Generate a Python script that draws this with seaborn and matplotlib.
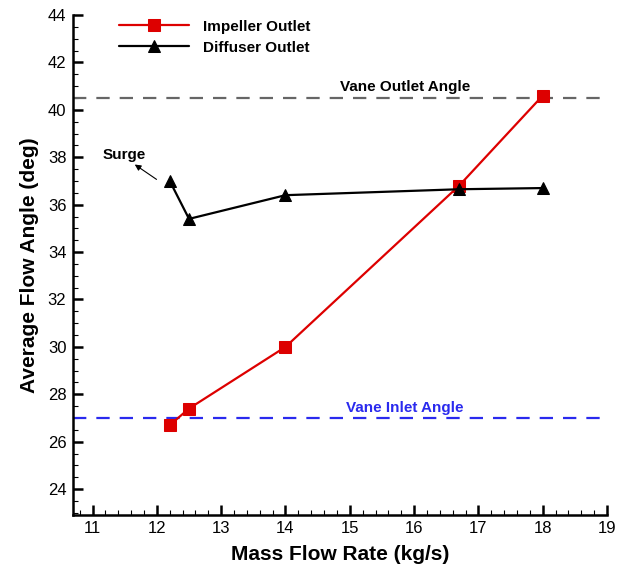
import matplotlib
matplotlib.use("Agg")
import matplotlib.pyplot as plt
import seaborn as sns
import pandas as pd
from matplotlib.ticker import MultipleLocator

mass_flow = [12.2, 12.5, 14.0, 16.7, 18.0]
impeller_outlet = [26.7, 27.4, 30.0, 36.8, 40.6]
diffuser_outlet = [37.0, 35.4, 36.4, 36.65, 36.7]
vane_outlet_angle = 40.5
vane_inlet_angle = 27.0

sns.set_theme(style="white")
plt.rcParams['font.family'] = ['Liberation Sans', 'DejaVu Sans']
plt.rcParams.update({"text.color": "black", "axes.labelcolor": "black",
                     "xtick.color": "black", "ytick.color": "black"})

df = pd.concat([
    pd.DataFrame({"x": mass_flow, "y": impeller_outlet, "series": "Impeller Outlet"}),
    pd.DataFrame({"x": mass_flow, "y": diffuser_outlet, "series": "Diffuser Outlet"}),
])

fig = plt.figure(figsize=(6.18, 5.64), dpi=100)
ax = fig.add_axes([0.1186, 0.0869, 0.8636, 0.8865])

ax.axhline(vane_outlet_angle, color="#666666", ls=(0, (6, 4.5)), lw=1.6, zorder=1)
ax.axhline(vane_inlet_angle, color="#2a2aee", ls=(0, (6, 4.5)), lw=1.6, zorder=1)

sns.lineplot(data=df, x="x", y="y", hue="series", style="series",
             palette={"Impeller Outlet": "#dd0000", "Diffuser Outlet": "black"},
             markers={"Impeller Outlet": "s", "Diffuser Outlet": "^"},
             dashes=False, markersize=9, linewidth=1.6, sort=False,
             ax=ax, zorder=3)

for line in ax.get_lines():
    c = line.get_color()
    line.set_markeredgecolor(c)
    line.set_markerfacecolor(c)

ax.set_xlim(10.70, 19.0)
ax.set_ylim(22.91, 44.0)
ax.xaxis.set_major_locator(MultipleLocator(1))
ax.xaxis.set_minor_locator(MultipleLocator(0.2))
ax.yaxis.set_major_locator(MultipleLocator(2))
ax.yaxis.set_minor_locator(MultipleLocator(0.5))
ax.tick_params(which="major", direction="in", length=7, width=1.8, labelsize=12,
               bottom=True, left=True)
ax.tick_params(which="minor", direction="in", length=3.5, width=0.8, bottom=True, left=True)
ax.tick_params(axis="x", pad=4.5)
ax.tick_params(axis="y", pad=5)
for s in ["top", "right"]:
    ax.spines[s].set_visible(False)
for s in ["left", "bottom"]:
    ax.spines[s].set_color("black")
    ax.spines[s].set_linewidth(1.8)

ax.set_xlabel("Mass Flow Rate (kg/s)", fontsize=15, fontweight="bold", labelpad=6)
ax.set_ylabel("Average Flow Angle (deg)", fontsize=15, fontweight="bold", labelpad=6)

ax.text(15.86, 40.68, "Vane Outlet Angle", fontsize=11, fontweight="bold", ha="center", va="bottom")
ax.text(15.85, 27.12, "Vane Inlet Angle", fontsize=11, fontweight="bold", ha="center", va="bottom",
        color="#2a2aee")
ax.text(11.15, 38.1, "Surge", fontsize=11, fontweight="bold", ha="left", va="center")
ax.annotate("", xy=(11.62, 37.76), xytext=(12.03, 37.0),
            arrowprops=dict(arrowstyle="-|>", color="black", lw=0.8, mutation_scale=9))

leg = ax.legend(loc="upper left", bbox_to_anchor=(0.059, 1.018), frameon=False, fontsize=11,
                handlelength=4.6, handletextpad=0.9, labelspacing=0.45)
for t in leg.get_texts():
    t.set_fontweight("bold")

fig.savefig("out.png", dpi=100)
